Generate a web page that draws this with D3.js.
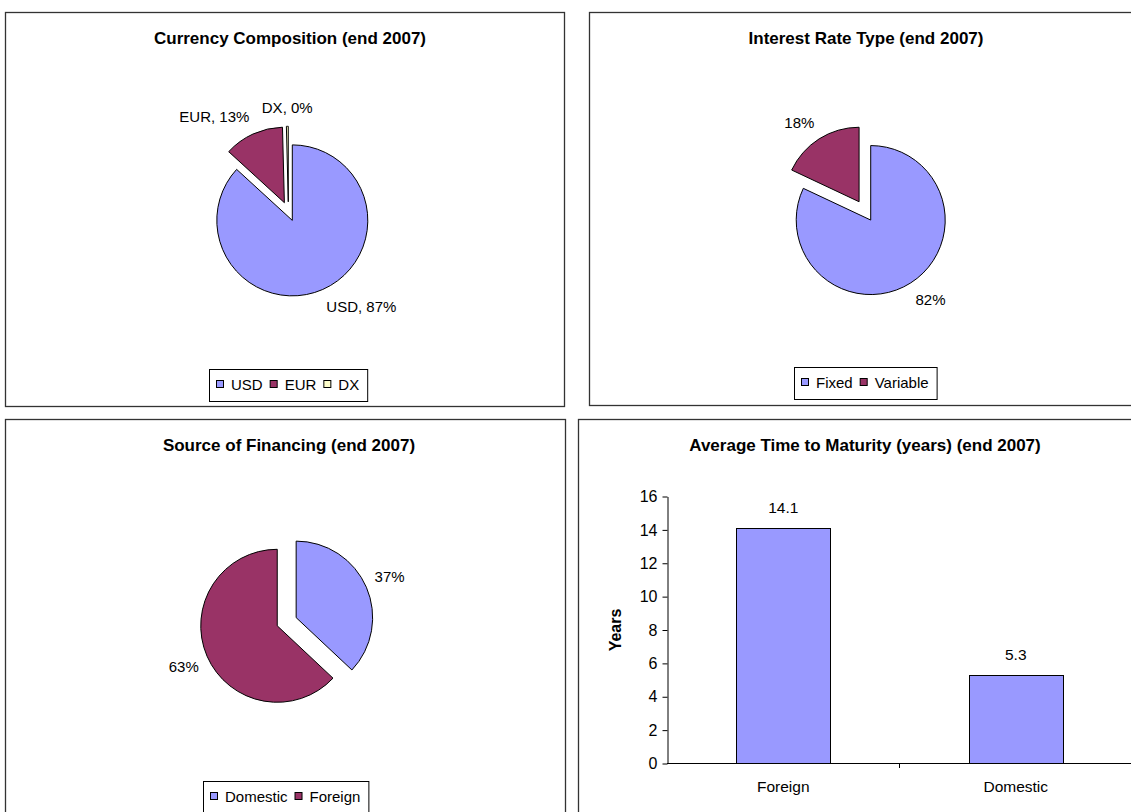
<!DOCTYPE html>
<html><head><meta charset="utf-8">
<script src="https://cdn.jsdelivr.net/npm/d3@7"></script>
<style>
body{margin:0;background:#fff}
svg{display:block;font-family:"Liberation Sans",Arial,sans-serif}
</style>
</head><body>
<svg id="chart" width="1131" height="812"></svg>
<script>
// ---- data ----
const currencyLabels = ["USD", "EUR", "DX"];
const currencyValues = [86.8, 12.8, 0.4];
const interestLabels = ["Fixed", "Variable"];
const interestValues = [82, 18];
const sourceLabels = ["Domestic", "Foreign"];
const sourceValues = [37, 63];
const maturityCategories = ["Foreign", "Domestic"];
const maturityValues = [14.1, 5.3];
const yTickValues = [0, 2, 4, 6, 8, 10, 12, 14, 16];
const panelTitles = [
  "Currency Composition (end 2007)",
  "Interest Rate Type (end 2007)",
  "Source of Financing (end 2007)",
  "Average Time to Maturity (years) (end 2007)"
];

const BLUE = "#9999FF", PLUM = "#993366", CREAM = "#FFFFCC";
const svg = d3.select("#chart");

// ---- panels ----
const panels = [
  {x:5.5, y:12.5, w:559, h:394, cx:290},
  {x:589.5, y:12.5, w:560, h:393, cx:866},
  {x:5.5, y:419.5, w:560, h:400, cx:289},
  {x:578.5, y:419.5, w:575, h:400, cx:865}
];
panels.forEach((p, i) => {
  svg.append("rect").attr("x", p.x).attr("y", p.y).attr("width", p.w).attr("height", p.h)
    .attr("fill", "#fff").attr("stroke", "#333").attr("stroke-width", 1.3);
  svg.append("text").attr("x", p.cx).attr("y", p.y + 31.5)
    .attr("text-anchor", "middle").attr("font-weight", "bold").attr("font-size", 17)
    .attr("fill", "#000").text(panelTitles[i]);
});

// ---- legend ----
function legend(labels, colors, cx, top) {
  const g = svg.append("g");
  const box = g.append("rect").attr("fill", "#fff").attr("stroke", "#000").attr("stroke-width", 1);
  let x = 0;
  const items = [];
  labels.forEach((l, i) => {
    const sq = g.append("rect").attr("width", 7).attr("height", 7)
      .attr("fill", colors[i]).attr("stroke", "#000").attr("stroke-width", 1);
    const t = g.append("text").attr("font-size", 15).attr("fill", "#000").text(l);
    const w = t.node().getComputedTextLength();
    items.push({sq, t, x});
    x += 15 + w + 7;
  });
  const inner = x - 7;
  const W = inner + 15, H = 32;
  const left = Math.round(cx - W / 2);
  box.attr("x", left + 0.5).attr("y", top + 0.5).attr("width", W).attr("height", H);
  items.forEach(it => {
    it.sq.attr("x", left + 7.5 + it.x).attr("y", top + 11.5);
    it.t.attr("x", left + 7 + it.x + 15).attr("y", top + 20.5);
  });
}

// ---- pies ----
function pie(values, labels, colors, cfg, withName) {
  const total = d3.sum(values);
  const arcs = d3.pie().sort(null).value(d => d)(values);
  const arc = d3.arc().innerRadius(0).outerRadius(cfg.r);
  const g = svg.append("g").attr("transform", `translate(${cfg.cx},${cfg.cy})`);
  arcs.forEach((a, i) => {
    const mid = (a.startAngle + a.endAngle) / 2;
    const dx = Math.sin(mid), dy = -Math.cos(mid);
    const ox = dx * cfg.explode, oy = dy * cfg.explode;
    g.append("path").attr("d", arc(a)).attr("transform", `translate(${ox},${oy})`)
      .attr("fill", colors[i]).attr("stroke", "#000").attr("stroke-width", 1)
      .attr("stroke-linejoin", "miter");
    const pct = Math.round(values[i] / total * 100) + "%";
    const txt = withName ? labels[i] + ", " + pct : pct;
    const px = ox + dx * (cfg.r + 9), py = oy + dy * (cfg.r + 13);
    const anchor = dx > 0.3 ? "start" : dx < -0.3 ? "end" : "middle";
    const base = dy > 0.3 ? "hanging" : dy < -0.3 ? "auto" : "middle";
    const t = g.append("text").attr("x", px).attr("font-size", 15).attr("fill", "#000")
      .attr("text-anchor", anchor).text(txt);
    if (base === "hanging") t.attr("y", py + 11);
    else if (base === "auto") t.attr("y", py);
    else t.attr("y", py + 5.5);
  });
}

pie(currencyValues, currencyLabels, [BLUE, PLUM, CREAM], {cx:288.4, cy:211.5, r:75.5, explode:9.7}, true);
legend(currencyLabels, [BLUE, PLUM, CREAM], 288.5, 369);

pie(interestValues, interestLabels, [BLUE, PLUM], {cx:864.9, cy:210.9, r:74.5, explode:10.85}, false);
legend(interestLabels, [BLUE, PLUM], 865.5, 367);

pie(sourceValues, sourceLabels, [BLUE, PLUM], {cx:286.7, cy:621.7, r:76.5, explode:10.3}, false);
legend(sourceLabels, [BLUE, PLUM], 286, 781);

// ---- bar chart ----
const y = d3.scaleLinear().domain([0, 16]).range([763, 496]);
const x = d3.scaleBand().domain(maturityCategories).range([667, 1132]).padding(0);
const bw = x.bandwidth() * 0.405;
const bars = svg.append("g");
maturityCategories.forEach((c, i) => {
  const bx = x(c) + (x.bandwidth() - bw) / 2;
  bars.append("rect").attr("x", Math.round(bx) + 0.5).attr("y", Math.round(y(maturityValues[i])) + 0.5)
    .attr("width", Math.round(bw)).attr("height", Math.round(y(0) - y(maturityValues[i])))
    .attr("fill", BLUE).attr("stroke", "#000").attr("stroke-width", 1);
  bars.append("text").attr("x", x(c) + x.bandwidth() / 2).attr("y", y(maturityValues[i]) - 15)
    .attr("text-anchor", "middle").attr("font-size", 15.5).attr("fill", "#000")
    .text(maturityValues[i].toFixed(1));
  bars.append("text").attr("x", x(c) + x.bandwidth() / 2).attr("y", 791.5)
    .attr("text-anchor", "middle").attr("font-size", 15.5).attr("fill", "#000").text(c);
});
const yAxis = svg.append("g").attr("transform", "translate(667.5,0.5)")
  .call(d3.axisLeft(y).tickValues(yTickValues).tickSize(5).tickPadding(5).tickSizeOuter(0));
yAxis.selectAll("text").attr("font-size", 16).attr("fill", "#000")
  .attr("font-family", '"Liberation Sans",Arial,sans-serif');
yAxis.selectAll("line,path").attr("stroke", "#000");
// x axis with ticks between categories
const xg = svg.append("g");
xg.append("line").attr("x1", x.range()[0]).attr("x2", x.range()[1])
  .attr("y1", y(0) + 0.5).attr("y2", y(0) + 0.5).attr("stroke", "#000");
const bounds = maturityCategories.map(c => x(c)).concat([x(maturityCategories[maturityCategories.length - 1]) + x.bandwidth()]);
bounds.slice(1).forEach(b => {
  xg.append("line").attr("x1", Math.round(b) - 0.5).attr("x2", Math.round(b) - 0.5)
    .attr("y1", y(0)).attr("y2", y(0) + 5).attr("stroke", "#000");
});
svg.append("text").attr("transform", "translate(621,630) rotate(-90)")
  .attr("text-anchor", "middle").attr("font-weight", "bold").attr("font-size", 16)
  .attr("fill", "#000").text("Years");
</script>
</body></html>
